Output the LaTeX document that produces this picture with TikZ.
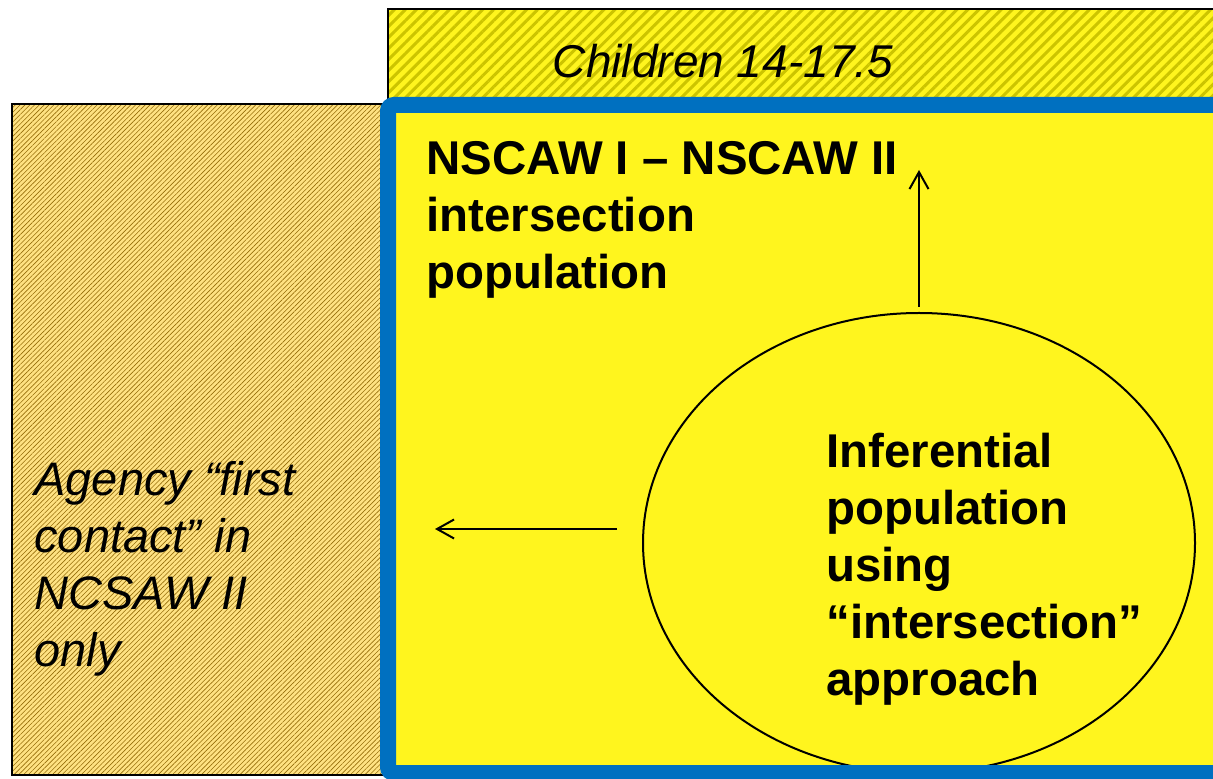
\documentclass[tikz,border=0pt]{standalone}
\usepackage{fontspec}
\setmainfont{Liberation Sans}
\usetikzlibrary{arrows.meta,patterns.meta,shapes.geometric}
\tikzset{>={Straight Barb[length=8.5pt,width=9.5pt]}}
\definecolor{sunyellow}{RGB}{255,245,30}
\definecolor{olivestripe}{RGB}{204,196,0}
\definecolor{tanfill}{RGB}{255,226,130}
\definecolor{brownstripe}{RGB}{150,110,10}
\definecolor{frameblue}{RGB}{0,112,192}
\tikzstyle{pointer}=[->,line width=1pt,black]
\tikzstyle{bigtext}=[inner sep=0pt,anchor=base west,align=left,font=\fontsize{23.5}{28.5}\selectfont]

\begin{document}
\begin{tikzpicture}[x=0.5pt,y=-0.5pt]
            \useasboundingbox (0,0) rectangle (1213,779);
            \clip (0,0) rectangle (1213,779);
            % hatched boxes behind the frame
            \fill[sunyellow] (388,9) rectangle (1240,130);
            \fill[pattern={Lines[angle=45,distance=3.9pt,line width=1.5pt]},pattern color=olivestripe]
                (388,9) rectangle (1240,130);
            \draw[line width=1.2pt] (388,9) rectangle (1240,130);
            \fill[tanfill] (12,104) rectangle (400,775);
            \fill[pattern={Lines[angle=45,distance=1.7pt,line width=0.3pt]},pattern color=brownstripe]
                (12,104) rectangle (400,775);
            \draw[line width=1pt] (12,104) rectangle (400,775);
            % intersection frame
            \fill[sunyellow,rounded corners=3pt] (388,105) rectangle (1240,773);
            \node[ellipse,draw,line width=1pt,minimum width=276pt,minimum height=230pt,inner sep=0pt] (infer) at (919,543) {};
            \draw[frameblue,line width=8pt,rounded corners=3pt] (388,105) rectangle (1240,773);
            % texts (anchored at the baseline of the last line)
            \node[bigtext,font=\fontsize{23}{28.5}\selectfont\itshape,anchor=base] (kids) at (723,78) {Children 14-17.5};
            \node[bigtext,font=\fontsize{23.7}{28.5}\selectfont\bfseries] (inter) at (426,289) {NSCAW I -- NSCAW II\\intersection\\population};
            \node[bigtext,font=\fontsize{23.7}{28.5}\selectfont\bfseries] (infertext) at (826,695) {Inferential\\population\\using\\“intersection”\\approach};
            \node[bigtext,font=\fontsize{23.5}{28.5}\selectfont\itshape] (agency) at (34,666) {Agency “first\\contact” in\\NCSAW II\\only};
            % arrows
            \coordinate (upto) at (919,170);
            \coordinate (leftfrom) at (617,529);
            \coordinate (leftto) at (435,529);
            \draw[pointer] ([yshift=2.5pt]infer.north) -- (upto);
            \draw[pointer] (leftfrom) -- (leftto);
        \end{tikzpicture}
\end{document}
